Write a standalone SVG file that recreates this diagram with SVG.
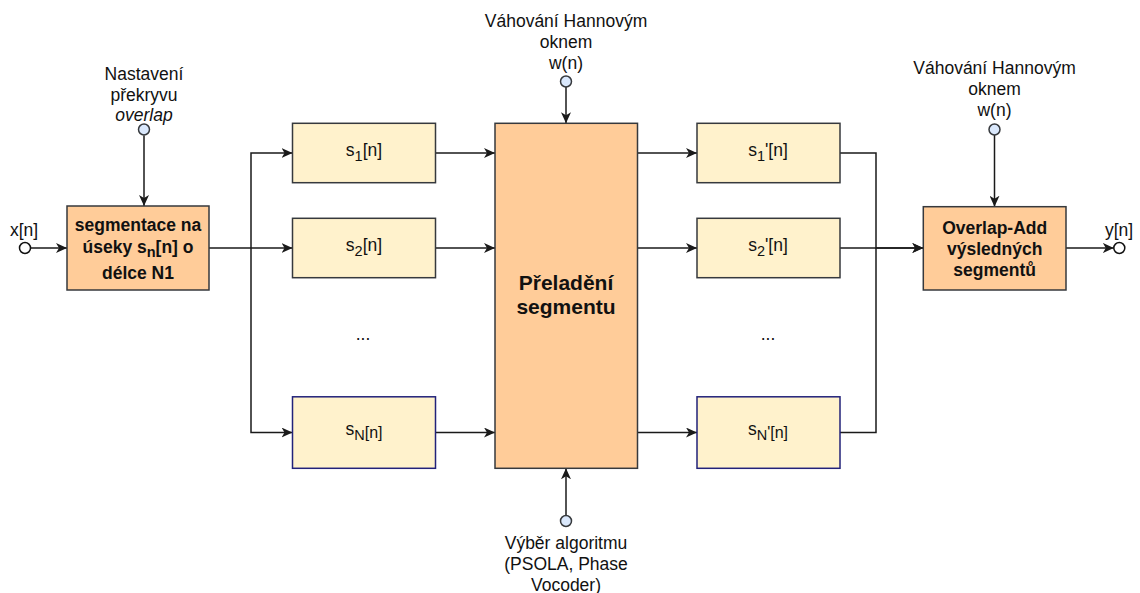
<svg xmlns="http://www.w3.org/2000/svg" width="1140" height="593" viewBox="0 0 1140 593">
<defs>
<style>
text{font-family:"Liberation Sans",Arial,sans-serif;font-size:17.5px;fill:#111;text-anchor:middle}
.b{font-weight:bold}
.big{font-weight:bold;font-size:21px}
.sub{font-size:14.5px}
.orange{fill:#ffcc99;stroke:#36393d;stroke-width:1.5}
.yel{fill:#fff2cc;stroke:#36393d;stroke-width:1.5}
.yeln{fill:#fff2cc;stroke:#22227a;stroke-width:1.5}
.knob{fill:#dae8fc;stroke:#36393d;stroke-width:1.5}
.port{fill:#fff;stroke:#111;stroke-width:1.5}
.edge{fill:none;stroke:#1a1a1a;stroke-width:1.5}
.arr{marker-end:url(#ah)}
</style>
<marker id="ah" viewBox="0 0 12 10" refX="11" refY="5" markerWidth="12" markerHeight="10" markerUnits="userSpaceOnUse" orient="auto">
<path d="M11,5 L0,0 L3,5 L0,10 Z" fill="#1a1a1a"/>
</marker>
</defs>

<g id="connectors">
<path class="edge arr" d="M30.5,248 H67"/>
<path class="edge arr" d="M144,135.5 V206"/>
<path class="edge arr" d="M209,248 H292.5"/>
<path class="edge arr" d="M251,248 V153 H292.5"/>
<path class="edge arr" d="M251,248 V432.5 H292.5"/>
<path class="edge arr" d="M435.5,153 H495"/>
<path class="edge arr" d="M435.5,248 H495"/>
<path class="edge arr" d="M435.5,432.5 H495"/>
<path class="edge arr" d="M566,87 V123.3"/>
<path class="edge arr" d="M566,515 V468.3"/>
<path class="edge arr" d="M637.5,153 H697"/>
<path class="edge arr" d="M637.5,248 H697"/>
<path class="edge arr" d="M637.5,432.5 H697"/>
<path class="edge arr" d="M840,153 H876 V248 H923.3"/>
<path class="edge arr" d="M840,248 H923.3"/>
<path class="edge" d="M840,432.5 H876 V248"/>
<path class="edge arr" d="M994.5,135 V206.7"/>
<path class="edge arr" d="M1066,248 H1113.8"/>
</g>

<g id="input">
<circle class="port" cx="25" cy="248" r="5.5"/>
<text x="24" y="236">x[n]</text>
</g>

<g id="overlap-knob">
<text x="144" y="79.5">Nastavení</text>
<text x="144" y="100.5">překryvu</text>
<text x="144" y="121" font-style="italic">overlap</text>
<circle class="knob" cx="144" cy="129.5" r="5.5"/>
</g>

<g id="segmentation">
<rect class="orange" x="67" y="206" width="142" height="84"/>
<text class="b" x="138" y="231">segmentace na</text>
<text class="b" x="138" y="252.5">úseky s<tspan class="sub" dy="4.5">n</tspan><tspan dy="-4.5">[n] o</tspan></text>
<text class="b" x="138" y="278.5">délce N1</text>
</g>

<g id="s1">
<rect class="yel" x="292.5" y="123.3" width="143" height="59.4"/>
<text x="364" y="156">s<tspan class="sub" dy="4.5">1</tspan><tspan dy="-4.5">[n]</tspan></text>
</g>
<g id="s2">
<rect class="yel" x="292.5" y="218.3" width="143" height="59.4"/>
<text x="364" y="251">s<tspan class="sub" dy="4.5">2</tspan><tspan dy="-4.5">[n]</tspan></text>
</g>
<g id="dots-left"><text x="363" y="340">...</text></g>
<g id="sN">
<rect class="yeln" x="292.5" y="396.8" width="143" height="71.5"/>
<text x="364" y="435">s<tspan class="sub" dy="4.5">N</tspan><tspan font-size="16" dy="-1.5">[n]</tspan></text>
</g>

<g id="window-top">
<text x="566" y="26.5">Váhování Hannovým</text>
<text x="566" y="47.5">oknem</text>
<text x="566" y="68.5">w(n)</text>
<circle class="knob" cx="566" cy="81.5" r="5.5"/>
</g>

<g id="pitch-shift">
<rect class="orange" x="495" y="123.3" width="142.5" height="345"/>
<text class="big" x="566" y="290">Přeladění</text>
<text class="big" x="566" y="314">segmentu</text>
</g>

<g id="algorithm">
<circle class="knob" cx="566" cy="521" r="5.5"/>
<text x="566" y="549">Výběr algoritmu</text>
<text x="566" y="570">(PSOLA, Phase</text>
<text x="566" y="590.5">Vocoder)</text>
</g>

<g id="s1p">
<rect class="yel" x="697" y="123.3" width="143" height="59.4"/>
<text x="768" y="156">s<tspan class="sub" dy="4.5">1</tspan><tspan dy="-4.5">'[n]</tspan></text>
</g>
<g id="s2p">
<rect class="yel" x="697" y="218.3" width="143" height="59.4"/>
<text x="768" y="251">s<tspan class="sub" dy="4.5">2</tspan><tspan dy="-4.5">'[n]</tspan></text>
</g>
<g id="dots-right"><text x="768" y="340">...</text></g>
<g id="sNp">
<rect class="yeln" x="697" y="396.8" width="143" height="71.5"/>
<text x="768" y="435">s<tspan class="sub" dy="4.5">N</tspan><tspan font-size="16" dy="-1.5">'[n]</tspan></text>
</g>

<g id="window-right">
<text x="994.5" y="73.5">Váhování Hannovým</text>
<text x="994.5" y="94.5">oknem</text>
<text x="994.5" y="116">w(n)</text>
<circle class="knob" cx="994.5" cy="129.5" r="5.5"/>
</g>

<g id="overlap-add">
<rect class="orange" x="923.3" y="206.7" width="142.7" height="83.3"/>
<text class="b" x="994.7" y="234">Overlap-Add</text>
<text class="b" x="994.7" y="255">výsledných</text>
<text class="b" x="994.7" y="276">segmentů</text>
</g>

<g id="output">
<circle class="port" cx="1119.3" cy="248" r="5.5"/>
<text x="1119" y="236">y[n]</text>
</g>
</svg>
